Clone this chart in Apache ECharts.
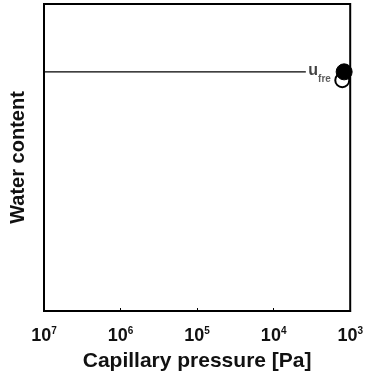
<!DOCTYPE html>
<html><head><meta charset="utf-8">
<script src="https://cdn.jsdelivr.net/npm/echarts@6/dist/echarts.min.js"></script>
<style>html,body{margin:0;padding:0;background:#fff}#c{width:366px;height:378px}</style>
</head><body><div id="c"></div>
<script>
const xTickExponents = [7, 6, 5, 4, 3];
const lineX = [1e7, 3800];
const lineY = [0.779, 0.779];
const filledPoint = [1200, 0.779];
const openPoint = [1270, 0.752];
const labelMain = 'u';
const labelSub = 'fre';

const chart = echarts.init(document.getElementById('c'), null, {renderer: 'canvas'});
const font = 'Liberation Sans, Arial, sans-serif';
chart.setOption({
  animation: false,
  grid: {left: 44, right: 13, top: 4, bottom: 67, show: true, borderColor: '#000', borderWidth: 2, backgroundColor: '#fff'},
  xAxis: {
    type: 'log', logBase: 10, min: 1e3, max: 1e7, inverse: true,
    name: 'Capillary pressure [Pa]', nameLocation: 'middle', nameGap: 40,
    nameTextStyle: {fontFamily: font, fontWeight: 'bold', fontSize: 21, color: '#111'},
    axisLine: {lineStyle: {color: '#000', width: 2}},
    axisTick: {inside: true, length: 3, lineStyle: {color: '#000'}},
    splitLine: {show: false},
    axisLabel: {
      margin: 15,
      formatter: function (v) {
        const e = Math.round(Math.log10(v));
        return xTickExponents.indexOf(e) >= 0 ? '{b|10}{s|' + e + '}' : '';
      },
      rich: {
        b: {fontFamily: font, fontWeight: 'bold', fontSize: 18, color: '#111'},
        s: {fontFamily: font, fontWeight: 'bold', fontSize: 10, color: '#111', verticalAlign: 'top', padding: [0, 0, 10, 0]}
      }
    }
  },
  yAxis: {
    type: 'value', min: 0, max: 1,
    name: 'Water content', nameLocation: 'middle', nameGap: 16,
    nameTextStyle: {fontFamily: font, fontWeight: 'bold', fontSize: 20, color: '#111'},
    axisLine: {lineStyle: {color: '#000', width: 2}},
    axisTick: {show: false}, axisLabel: {show: false}, splitLine: {show: false}
  },
  series: [
    {
      type: 'line', symbol: 'none', data: lineX.map((x, i) => [x, lineY[i]]),
      lineStyle: {color: '#000', width: 1.3}
    },
    {
      type: 'scatter', data: [[lineX[1], lineY[1]]], symbolSize: 1,
      itemStyle: {color: 'rgba(0,0,0,0)'},
      label: {
        show: true, position: 'right', distance: 2,
        formatter: '{m|' + labelMain + '}{sub|' + labelSub + '}',
        rich: {
          m: {fontFamily: font, fontWeight: 'bold', fontSize: 16, color: '#111', padding: [0, 0, 2, 0]},
          sub: {fontFamily: font, fontWeight: 'bold', fontSize: 10, color: '#333', padding: [14, 0, 0, 0]}
        }
      }
    },
    {
      type: 'scatter', data: [openPoint], symbol: 'circle', symbolSize: 14,
      itemStyle: {color: 'rgba(255,255,255,0)', borderColor: '#000', borderWidth: 2, opacity: 1}
    },
    {
      type: 'scatter', data: [filledPoint], symbol: 'circle', symbolSize: 16,
      itemStyle: {color: '#000', borderColor: '#000', borderWidth: 1, opacity: 1}
    }
  ]
});
</script></body></html>
